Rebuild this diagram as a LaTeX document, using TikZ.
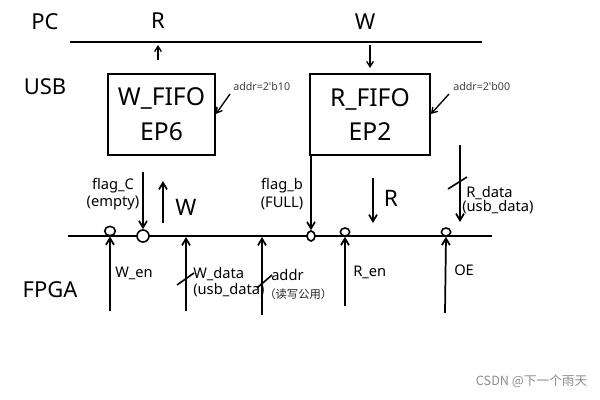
\documentclass[tikz,border=0pt]{standalone}
\usepackage{fontspec}
\setmainfont{Noto Sans}
\newfontfamily\cjkfont{Noto Sans CJK SC}
\usetikzlibrary{arrows.meta,shapes.geometric}
\begin{document}
\begin{tikzpicture}[x=0.75pt,y=-0.75pt,
  bus/.style={line width=1.6pt},
  sig/.style={line width=1.3pt,-{Straight Barb[length=5pt,width=6pt]}},
  tiny/.style={line width=1pt,-{Straight Barb[length=4pt,width=5pt]}},
  fifo/.style={draw,line width=1.3pt,minimum width=80.25pt,minimum height=60.75pt,align=center,font=\fontsize{18.5}{22}\selectfont,inner sep=0pt},
  big/.style={font=\fontsize{16.5}{19}\selectfont},
  lbl/.style={font=\fontsize{11}{13}\selectfont,align=center,inner sep=0pt},
  small/.style={font=\fontsize{8}{10}\selectfont,text=black!75,inner sep=0pt},
  ring/.style={draw,line width=1.2pt,ellipse,inner sep=0pt,fill=white},
  slash/.style={line width=1.2pt}]
\useasboundingbox (0,0) rectangle (600,400);
% level labels
\node[big] (pc) at (45,22) {PC};
\node[big] (usb) at (45,87) {USB};
\node[big] (fpga) at (50,290) {FPGA};
\node[big] (rtop) at (158,21) {R};
\node[big] (wtop) at (365,22) {W};
% PC bus
\coordinate (pcl) at (70,42);
\coordinate (pcr) at (482,42);
\draw[bus] (pcl) -- (pcr);
% FIFOs
\node[fifo] (wf) at (161.5,114.5) {\raisebox{-3pt}{W\_FIFO}\\[4pt]\raisebox{-3pt}{EP6}};
\node[fifo,minimum width=90pt] (rf) at (370,114.5) {\raisebox{-3pt}{R\_FIFO}\\[4pt]\raisebox{-3pt}{EP2}};
\coordinate (wup0) at (158,60);
\coordinate (wup1) at (158,45);
\draw[tiny] (wup0) -- (wup1);
\coordinate (rdn0) at (370,45);
\coordinate (rdn1) at (370,68);
\draw[tiny] (rdn0) -- (rdn1);
% addr labels
\node[small,anchor=west] (a10) at (233,86) {addr=2\textquotesingle b10};
\coordinate (a10s) at (230,94);
\draw[tiny] (a10s) -- (wf.east |- 0,114);
\node[small,anchor=west] (a00) at (453,86) {addr=2\textquotesingle b00};
\coordinate (a00s) at (449,94);
\draw[tiny] (a00s) -- (rf.east |- 0,114);
% FPGA bus
\coordinate (fl) at (68,236);
\coordinate (fr) at (492,236);
\draw[bus] (fl) -- (fr);
% rings
\node[ring,minimum width=8pt,minimum height=7pt] (c1) at (110,231) {};
\node[ring,minimum width=9pt,minimum height=9pt] (c2) at (143,236) {};
\node[ring,minimum width=6pt,minimum height=7.5pt] (c3) at (311,236) {};
\node[ring,minimum width=7pt,minimum height=6pt] (c4) at (345,232) {};
\node[ring,minimum width=7pt,minimum height=6pt] (c5) at (446,232) {};
% flag_C
\node[lbl] (flc) at (113,194) {flag\_C\\(empty)};
\coordinate (flc0) at (143,172);
\draw[sig] (flc0) -- (c2.north);
% W up arrow
\coordinate (w0) at (163,223);
\coordinate (w1) at (163,181);
\draw[sig] (w0) -- (w1);
\node[font=\fontsize{17}{20}\selectfont] (wlbl) at (186,207) {W};
% W_en
\coordinate (wen0) at (110,311);
\draw[sig] (wen0) -- (c1.south);
\node[lbl,anchor=west] (wen) at (115,273) {W\_en};
% W_data
\coordinate (wd0) at (186,311);
\coordinate (wd1) at (186,237);
\draw[sig] (wd0) -- (wd1);
\coordinate (wds0) at (177,285);
\coordinate (wds1) at (194,273);
\draw[slash] (wds0) -- (wds1);
\node[lbl,anchor=west] (wd) at (193,274) {W\_data};
\node[lbl,anchor=west] (wdu) at (193,290) {(usb\_data)};
% addr
\coordinate (ad0) at (262,315);
\coordinate (ad1) at (262,237);
\draw[sig] (ad0) -- (ad1);
\coordinate (ads0) at (257,288);
\coordinate (ads1) at (272,275);
\draw[slash] (ads0) -- (ads1);
\node[lbl,anchor=west] (ad) at (271,275) {addr};
\node[small,text=black!85,anchor=west,font=\cjkfont\fontsize{8.5}{10}\selectfont] (adn) at (264,294) {（读写公用）};
% flag_b
\node[lbl] (flb) at (282,194) {flag\_b\\(FULL)};
\coordinate (flb0) at (rf.south west -| c3);
\draw[sig] (flb0) -- (c3.north);
% R_en
\coordinate (ren0) at (345,306);
\draw[sig] (ren0) -- (c4.south);
\node[lbl,anchor=west] (ren) at (353,272) {R\_en};
% R down arrow
\coordinate (r0) at (373,178);
\coordinate (r1) at (373,223);
\draw[sig] (r0) -- (r1);
\node[font=\fontsize{17}{20}\selectfont] (rlbl) at (391,198) {R};
% R_data
\coordinate (rd0) at (460,145);
\coordinate (rd1) at (460,222);
\draw[sig] (rd0) -- (rd1);
\coordinate (rds0) at (448,189);
\coordinate (rds1) at (467,177);
\draw[slash] (rds0) -- (rds1);
\node[lbl,anchor=west] (rd) at (466,193) {R\_data};
\node[lbl,anchor=west] (rdu) at (462,207) {(usb\_data)};
% OE
\coordinate (oe0) at (445,313);
\draw[sig] (oe0) -- (c5.south);
\node[lbl,anchor=west] (oe) at (454,270) {OE};
% watermark
\node[font=\cjkfont\fontsize{9.5}{11}\selectfont,text=black!45,anchor=east] (wm) at (592,381) {CSDN @下一个雨天};
\end{tikzpicture}
\end{document}
